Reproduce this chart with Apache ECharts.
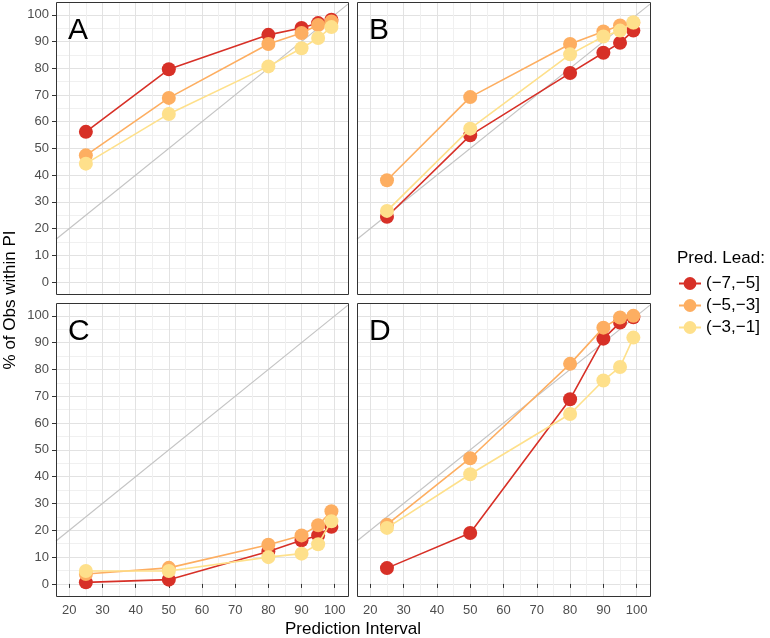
<!DOCTYPE html>
<html>
<head>
<meta charset="utf-8">
<script src="https://cdn.jsdelivr.net/npm/echarts@6/dist/echarts.min.js"></script>
<style>
	html, body { margin: 0; padding: 0; background: #fff; }
	#chart { width: 770px; height: 638px; }
</style>
</head>
<body>
<div id="chart"></div>
<script>
(() => {

	// prediction interval levels (x)
	const piLevels = [25, 50, 80, 90, 95, 99];

	const xTicks = [20, 30, 40, 50, 60, 70, 80, 90, 100];
	const yTicks = [0, 10, 20, 30, 40, 50, 60, 70, 80, 90, 100];

	const leadNames = ["(\u22127,\u22125]", "(\u22125,\u22123]", "(\u22123,\u22121]"];
	const leadColors = ["#d73027", "#fdae61", "#fee08b"];

	const panelLabels = ["A", "B", "C", "D"];

	// % of obs within PI, per panel, per lead
	const panelA_lead75 = [56.2, 79.6, 92.5, 95.1, 96.9, 98.2];
	const panelA_lead53 = [47.4, 68.9, 89.1, 93.2, 96.2, 97.5];
	const panelA_lead31 = [44.3, 62.9, 80.7, 87.5, 91.3, 95.4];

	const panelB_lead75 = [24.4, 54.9, 78.2, 85.8, 89.5, 94.1];
	const panelB_lead53 = [38.1, 69.2, 89.1, 93.8, 96.0, 97.0];
	const panelB_lead31 = [26.6, 57.4, 85.2, 91.9, 94.1, 97.2];

	const panelC_lead75 = [0.6, 1.6, 12.1, 16.3, 18.1, 21.3];
	const panelC_lead53 = [3.7, 6.0, 14.6, 18.1, 21.9, 27.1];
	const panelC_lead31 = [4.8, 4.8, 10.0, 11.3, 14.8, 23.4];

	const panelD_lead75 = [5.9, 19.0, 68.9, 91.5, 97.5, 99.5];
	const panelD_lead53 = [22.1, 46.9, 82.1, 95.6, 99.4, 100];
	const panelD_lead31 = [20.9, 40.9, 63.4, 75.9, 80.9, 91.9];

	const panels = [
		[panelA_lead75, panelA_lead53, panelA_lead31],
		[panelB_lead75, panelB_lead53, panelB_lead31],
		[panelC_lead75, panelC_lead53, panelC_lead31],
		[panelD_lead75, panelD_lead53, panelD_lead31],
	];

	const xRange = [16, 104];
	const yRange = [-4.5, 104.8];

	const font = "'Liberation Sans', Arial, sans-serif";

	const gridBoxes = [
		{left: 56, top: 2, width: 292, height: 292},
		{left: 357, top: 2, width: 293, height: 292},
		{left: 56, top: 303, width: 292, height: 293},
		{left: 357, top: 303, width: 293, height: 293},
	];

	const grid = [], xAxis = [], yAxis = [], series = [], title = [], borders = [];

	gridBoxes.forEach((b, i) => {
		const bottomRow = i >= 2;
		const leftCol = i % 2 === 0;

		grid.push(Object.assign({
			show: true,
			borderWidth: 0,
			backgroundColor: "#fff",
			containLabel: false,
		}, b));

		// panel border drawn on top of the grid lines
		borders.push({
			type: "rect",
			shape: {x: b.left + 0.5, y: b.top + 0.5, width: b.width, height: b.height},
			style: {fill: null, stroke: "#333", lineWidth: 1},
			silent: true,
			z: 100,
		});

		const axisCommon = {
			splitLine: {show: true, lineStyle: {color: "#e2e2e2", width: 1}},
			minorSplitLine: {show: true, lineStyle: {color: "#f0f0f0", width: 1}},
			minorTick: {show: false, splitNumber: 2},
			axisLine: {show: false},
		};

		xAxis.push(Object.assign({
			gridIndex: i,
			type: "value",
			min: xRange[0],
			max: xRange[1],
			splitNumber: 9,
			axisTick: {show: bottomRow, length: 4, customValues: xTicks, lineStyle: {color: "#333"}},
			axisLabel: {
				show: bottomRow, customValues: xTicks,
				color: "#4d4d4d", fontSize: 13, fontFamily: font, margin: 8,
			},
		}, axisCommon));

		yAxis.push(Object.assign({
			gridIndex: i,
			type: "value",
			min: yRange[0],
			max: yRange[1],
			splitNumber: 10,
			axisTick: {show: leftCol, length: 4, customValues: yTicks, lineStyle: {color: "#333"}},
			axisLabel: {
				show: leftCol, customValues: yTicks,
				color: "#4d4d4d", fontSize: 13, fontFamily: font, margin: 7,
			},
		}, axisCommon));

		// 1:1 reference line
		series.push({
			type: "line",
			xAxisIndex: i,
			yAxisIndex: i,
			data: [[xRange[0], xRange[0]], [xRange[1], xRange[1]]],
			symbol: "none",
			silent: true,
			lineStyle: {color: "#c4c4c4", width: 1.2},
			z: 1,
		});

		panels[i].forEach((vals, k) => {
			series.push({
				name: leadNames[k],
				type: "line",
				xAxisIndex: i,
				yAxisIndex: i,
				data: piLevels.map((x, j) => [x, vals[j]]),
				symbol: "circle",
				symbolSize: 14,
				showSymbol: true,
				lineStyle: {color: leadColors[k], width: 1.6},
				itemStyle: {color: leadColors[k]},
				z: 3 + k,
			});
		});

		title.push({
			text: panelLabels[i],
			left: b.left + 12,
			top: b.top + 14,
			textStyle: {fontSize: 30, fontWeight: "normal", color: "#000", fontFamily: font},
			padding: 0,
		});
	});

	const chart = echarts.init(document.getElementById("chart"), null, {renderer: "canvas"});

	chart.setOption({
		animation: false,
		backgroundColor: "#fff",
		title: title,
		grid: grid,
		xAxis: xAxis,
		yAxis: yAxis,
		series: series,
		legend: {
			data: leadNames,
			orient: "vertical",
			left: 673,
			top: 270,
			itemWidth: 22,
			itemHeight: 16,
			itemGap: 5,
			textStyle: {fontSize: 17, color: "#000", fontFamily: font},
		},
		graphic: borders.concat([
			{
				type: "text",
				x: 677,
				y: 258,
				style: {text: "Pred. Lead:", fontSize: 17, fill: "#000", fontFamily: font, verticalAlign: "middle"},
			},
			{
				type: "text",
				x: 10,
				y: 300,
				rotation: Math.PI / 2,
				style: {
					text: "% of Obs within PI", fontSize: 17, fill: "#000", fontFamily: font,
					align: "center", verticalAlign: "middle",
				},
			},
			{
				type: "text",
				x: 353,
				y: 629,
				style: {
					text: "Prediction Interval", fontSize: 17, fill: "#000", fontFamily: font,
					align: "center", verticalAlign: "middle",
				},
			},
		]),
	});
})();
</script>
</body>
</html>
